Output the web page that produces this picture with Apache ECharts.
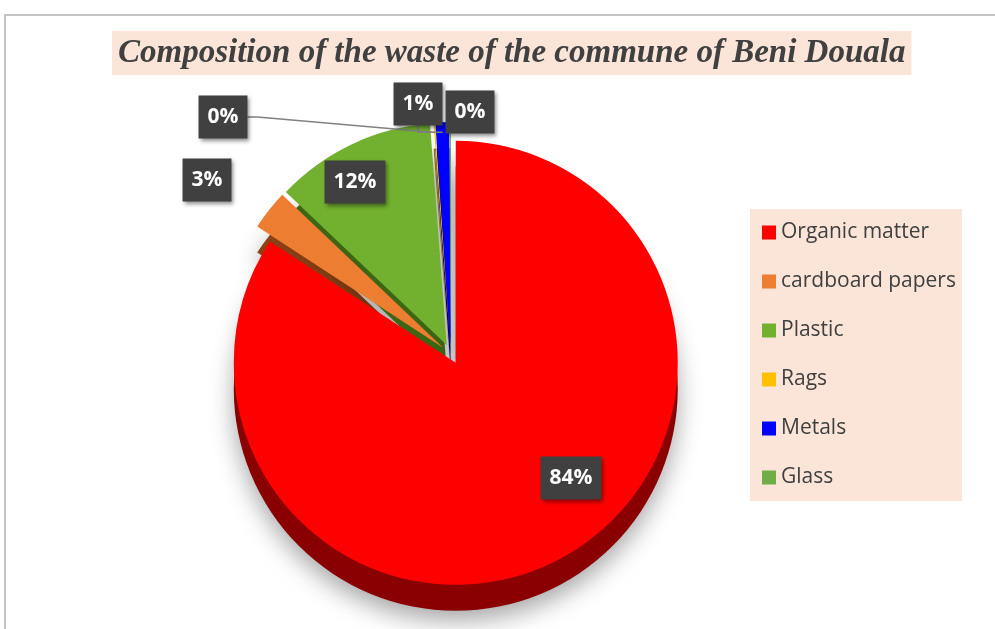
<!DOCTYPE html>
<html>
<head>
<meta charset="utf-8">
<script src="https://cdn.jsdelivr.net/npm/echarts@6/dist/echarts.min.js"></script>
<style>
html,body{margin:0;padding:0;background:#fff;}
#chart{width:995px;height:629px;}
</style>
</head>
<body>
<div id="chart"></div>
<script>
// ---- data ----
const titleText = 'Composition of the waste of the commune of Beni Douala';
const categories = ['Organic matter', 'cardboard papers', 'Plastic', 'Rags', 'Metals', 'Glass'];
const values = [84.2, 2.9, 11.7, 0.1, 1.0, 0.1];

// ---- styles ----
const topColors = ['#FF0000', '#ED7D31', '#72B02F', '#FFC000', '#0000FF', '#70AD47'];
const sideColors = ['#8A0000', '#8C4214', '#3C6614', '#A07800', '#00007A', '#3C6626'];
const showLine = [false, false, false, true, true, false];
// label anchor positions (layout only)
const labelPos = [[571, 478], [207, 180], [355, 182], [223, 117], [418, 104], [470, 112]];

const chart = echarts.init(document.getElementById('chart'), null, {renderer: 'canvas'});

const center = [451, 354];
const radius = 222;
const depth = 26;

const baseSeries = {
  type: 'pie',
  silent: true,
  radius: radius,
  startAngle: 90,
  clockwise: true,
  percentPrecision: 0,
  emphasis: {disabled: true}
};

chart.setOption({
  backgroundColor: '#ffffff',
  animation: false,
  graphic: [{
    type: 'rect', silent: true, z: -10,
    shape: {x: 5, y: 15, width: 1000, height: 700},
    style: {fill: null, stroke: '#c4c4c4', lineWidth: 2}
  }],
  title: {
    text: titleText,
    left: 112, top: 31,
    padding: [5, 6, 5, 6],
    backgroundColor: '#FAE5D8',
    textStyle: {
      fontFamily: 'Liberation Serif',
      fontStyle: 'italic',
      fontWeight: 'bold',
      fontSize: 33,
      color: '#404040',
      lineHeight: 34
    }
  },
  legend: {
    orient: 'vertical',
    left: 750, top: 209,
    padding: [13, 6, 13, 12],
    backgroundColor: '#FAE5D8',
    itemWidth: 14, itemHeight: 14,
    itemGap: 28,
    icon: 'rect',
    textStyle: {fontFamily: 'Open Sans', fontSize: 21, color: '#404040'},
    data: categories.map((n, i) => ({name: n, itemStyle: {color: topColors[i]}}))
  },
  series: [
    Object.assign({}, baseSeries, {
      name: 'side',
      center: [center[0], center[1] + depth],
      selectedMode: 'multiple',
      selectedOffset: 10,
      label: {show: false},
      labelLine: {show: false},
      itemStyle: {shadowBlur: 25, shadowColor: 'rgba(0,0,0,0.35)', shadowOffsetY: 10},
      data: categories.map((name, i) => ({
        name: name, value: values[i], selected: true,
        itemStyle: {color: sideColors[i]}
      }))
    }),
    Object.assign({}, baseSeries, {
      name: 'top',
      center: center,
      selectedMode: 'multiple',
      selectedOffset: 10,
      label: {show: false},
      labelLine: {show: false},
      data: categories.map((name, i) => ({
        name: name, value: values[i], selected: true,
        itemStyle: {color: topColors[i]}
      }))
    }),
    Object.assign({}, baseSeries, {
      name: 'labels',
      center: center,
      z: 5,
      avoidLabelOverlap: false,
      itemStyle: {color: 'rgba(0,0,0,0)'},
      label: {
        show: true,
        position: 'outside',
        formatter: '{d}%',
        fontFamily: 'Open Sans',
        fontWeight: 'bold',
        fontSize: 21,
        lineHeight: 25,
        color: '#ffffff',
        backgroundColor: '#404040',
        padding: [9, 9, 9, 9],
        shadowBlur: 4,
        shadowColor: 'rgba(0,0,0,0.45)',
        shadowOffsetX: 2,
        shadowOffsetY: 2
      },
      labelLine: {
        show: true,
        length: 10,
        length2: 10,
        lineStyle: {color: '#808080', width: 1.5}
      },
      labelLayout: function (p) {
        const pos = labelPos[p.dataIndex];
        return {x: pos[0], y: pos[1], align: 'center', verticalAlign: 'middle'};
      },
      data: categories.map((name, i) => ({
        name: name, value: values[i],
        labelLine: {show: showLine[i]}
      }))
    })
  ]
});
</script>
</body>
</html>
